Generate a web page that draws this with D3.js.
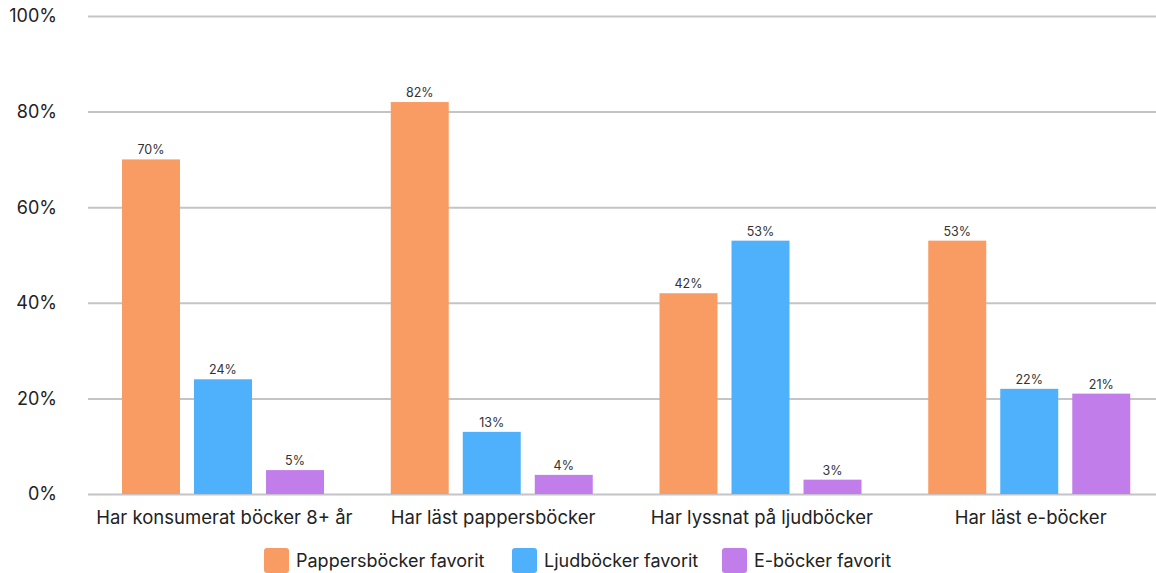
<!DOCTYPE html>
<html>
<head>
    <meta charset="utf-8">
    <script src="https://d3js.org/d3.v7.min.js"></script>
    <style>
        body { margin: 0; background: #fff; font-family: Inter, "Noto Sans", sans-serif; }
        .grid line { stroke: #c4c4c8; stroke-width: 2; }
        .grid .domain { display: none; }
        .y-label { font-size: 18px; fill: #222; text-anchor: end; }
        .x-label { font-size: 18.5px; fill: #222; text-anchor: middle; }
        .value-label { font-size: 12.5px; fill: #333; text-anchor: middle; }
        .legend-text { font-size: 18px; fill: #222; }
    </style>
</head>
<body>
    <div id="chart"></div>
    <script>
        // chart data
        const categories = ["Har konsumerat böcker 8+ år", "Har läst pappersböcker", "Har lyssnat på ljudböcker", "Har läst e-böcker"];
        const seriesNames = ["Pappersböcker favorit", "Ljudböcker favorit", "E-böcker favorit"];
        const pappersbocker = [70, 82, 42, 53];
        const ljudbocker = [24, 13, 53, 22];
        const ebocker = [5, 4, 3, 21];
        const yTicks = [0, 20, 40, 60, 80, 100];
        const colors = ["#f99c64", "#4fb0fc", "#c17dea"];

        const seriesValues = [pappersbocker, ljudbocker, ebocker];

        const width = 1156, height = 573;
        const margin = { top: 16, right: 0, bottom: 79, left: 88 };
        const innerW = width - margin.left - margin.right;
        const innerH = height - margin.top - margin.bottom;
        const bandsW = 1075; // group bands run slightly past the right edge

        const svg = d3.select("#chart").append("svg")
            .attr("width", width)
            .attr("height", height);

        const g = svg.append("g")
            .attr("transform", "translate(" + margin.left + "," + margin.top + ")");

        const x0 = d3.scaleBand().domain(categories).range([0, bandsW]).paddingInner(0).paddingOuter(0);
        const x1 = d3.scaleBand().domain(seriesNames).range([34, 34 + 202]).paddingInner(0.195).paddingOuter(0);
        const y = d3.scaleLinear().domain([0, 100]).range([innerH, 0]);

        // gridlines
        g.append("g")
            .attr("class", "grid")
            .call(d3.axisLeft(y).tickValues(yTicks).tickSize(-innerW).tickFormat(""));

        // y labels
        g.selectAll(".y-label")
            .data(yTicks)
            .enter().append("text")
            .attr("class", "y-label")
            .attr("x", -31)
            .attr("y", d => y(d))
            .attr("dy", "0.35em")
            .text(d => d + "%");

        // bars
        const groups = g.selectAll(".group")
            .data(categories)
            .enter().append("g")
            .attr("transform", d => "translate(" + x0(d) + ",0)");

        groups.selectAll("rect")
            .data((c, ci) => seriesNames.map((s, si) => ({ s: s, si: si, v: seriesValues[si][ci] })))
            .enter().append("rect")
            .attr("x", d => x1(d.s))
            .attr("y", d => y(d.v))
            .attr("width", x1.bandwidth())
            .attr("height", d => innerH - y(d.v))
            .attr("fill", d => colors[d.si]);

        groups.selectAll(".value-label")
            .data((c, ci) => seriesNames.map((s, si) => ({ s: s, si: si, v: seriesValues[si][ci] })))
            .enter().append("text")
            .attr("class", "value-label")
            .attr("x", d => x1(d.s) + x1.bandwidth() / 2)
            .attr("y", d => y(d.v) - 5)
            .text(d => d.v + "%");

        // category labels
        g.selectAll(".x-label")
            .data(categories)
            .enter().append("text")
            .attr("class", "x-label")
            .attr("x", d => x0(d) + x0.bandwidth() / 2 + 2)
            .attr("y", innerH + 30)
            .text(d => d);

        // legend
        const legendX = [264, 512, 722];
        const legend = svg.append("g")
            .selectAll("g")
            .data(seriesNames)
            .enter().append("g")
            .attr("transform", (d, i) => "translate(" + legendX[i] + ",548)");

        legend.append("rect")
            .attr("width", 25)
            .attr("height", 25)
            .attr("rx", 3)
            .attr("fill", (d, i) => colors[i]);

        legend.append("text")
            .attr("class", "legend-text")
            .attr("x", 32)
            .attr("y", 12.5)
            .attr("dy", "0.35em")
            .text(d => d);
    </script>
</body>
</html>
